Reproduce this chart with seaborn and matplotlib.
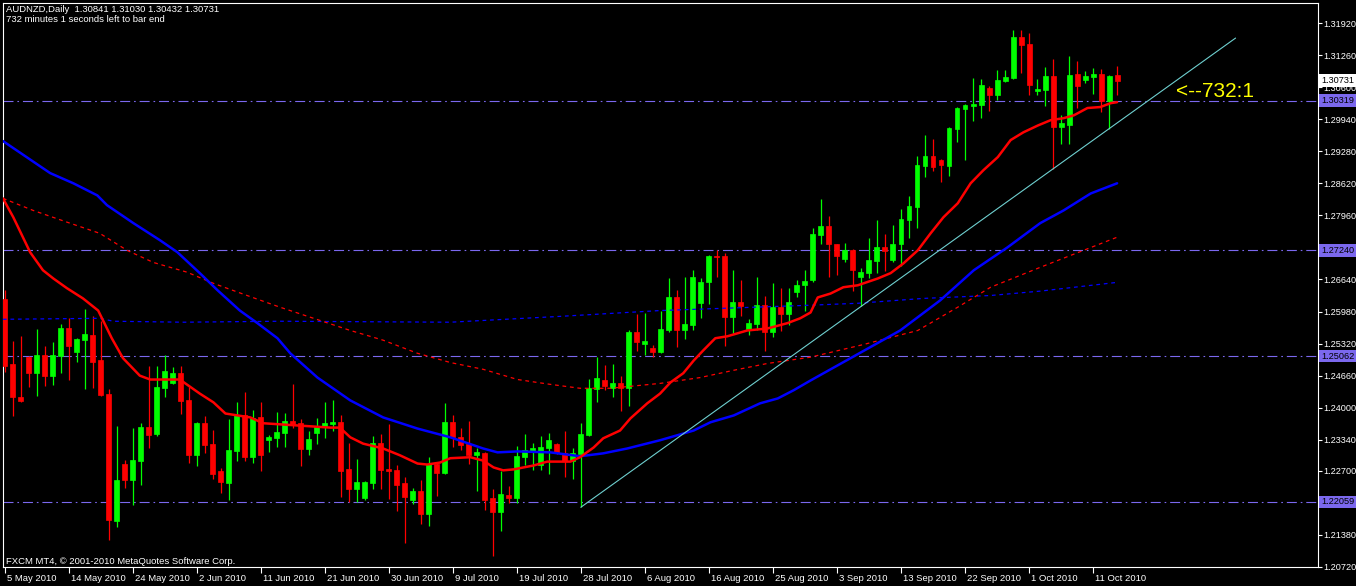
import numpy as np
import pandas as pd
import matplotlib
matplotlib.use('Agg')
import matplotlib.pyplot as plt
import matplotlib.transforms as mtransforms
import seaborn as sns

# AUDNZD daily bars, 5 May 2010 .. 14 Oct 2010
opens = [1.2623, 1.2489, 1.2423, 1.2504, 1.2471, 1.2509, 1.2466, 1.2506, 1.2565, 1.2514,
         1.2539, 1.2549, 1.2499, 1.2429, 1.2166, 1.2285, 1.2252, 1.2291, 1.2361, 1.2345,
         1.2440, 1.2450, 1.2471, 1.2415, 1.2302, 1.2368, 1.2326, 1.2269, 1.2244, 1.2310,
         1.2384, 1.2298, 1.2380, 1.2333, 1.2337, 1.2347, 1.2372, 1.2368, 1.2314, 1.2347,
         1.2363, 1.2366, 1.2370, 1.2273, 1.2232, 1.2215, 1.2244, 1.2328, 1.2273, 1.2271,
         1.2244, 1.2209, 1.2228, 1.2182, 1.2285, 1.2265, 1.2370, 1.2339, 1.2326, 1.2302,
         1.2306, 1.2215, 1.2186, 1.2221, 1.2215, 1.2298, 1.2308, 1.2281, 1.2318, 1.2326,
         1.2306, 1.2291, 1.2304, 1.2343, 1.2438, 1.2456, 1.2440, 1.2450, 1.2440, 1.2555,
         1.2532, 1.2522, 1.2514, 1.2559, 1.2627, 1.2559, 1.2570, 1.2615, 1.2658, 1.2712,
         1.2712, 1.2586, 1.2617, 1.2563, 1.2572, 1.2611, 1.2555, 1.2607, 1.2592, 1.2638,
         1.2652, 1.2662, 1.2755, 1.2775, 1.2736, 1.2707, 1.2724, 1.2670, 1.2677, 1.2703,
         1.2730, 1.2705, 1.2736, 1.2786, 1.2813, 1.2897, 1.2918, 1.2909, 1.2897, 1.2973,
         1.3014, 1.3021, 1.3023, 1.3058, 1.3044, 1.3072, 1.3078, 1.3163, 1.3148, 1.3052,
         1.3054, 1.3082, 1.2977, 1.2981, 1.3087, 1.3074, 1.3080, 1.3087, 1.3031, 1.30841]
highs = [1.2642, 1.2537, 1.2547, 1.2506, 1.2561, 1.2526, 1.2535, 1.2572, 1.2584, 1.2543,
         1.2603, 1.2588, 1.2578, 1.2438, 1.2363, 1.2293, 1.2359, 1.2368, 1.2485, 1.2485,
         1.2508, 1.2483, 1.2485, 1.2442, 1.2370, 1.2382, 1.2355, 1.2275, 1.2376, 1.2411,
         1.2433, 1.2396, 1.2411, 1.2343, 1.2391, 1.2390, 1.2448, 1.2376, 1.2353, 1.2378,
         1.2411, 1.2415, 1.2384, 1.2328, 1.2295, 1.2250, 1.2341, 1.2345, 1.2366, 1.2283,
         1.2258, 1.2234, 1.2252, 1.2298, 1.2287, 1.2409, 1.2384, 1.2359, 1.2372, 1.2316,
         1.2308, 1.2232, 1.2269, 1.2238, 1.2322, 1.2345, 1.2328, 1.2341, 1.2347, 1.2328,
         1.2351, 1.2318, 1.2368, 1.2460, 1.2504, 1.2487, 1.2489, 1.2466, 1.2559, 1.2592,
         1.2594, 1.2530, 1.2600, 1.2668, 1.2642, 1.2670, 1.2683, 1.2666, 1.2714, 1.2724,
         1.2718, 1.2683, 1.2662, 1.2582, 1.2670, 1.2629, 1.2656, 1.2646, 1.2646, 1.2662,
         1.2683, 1.2769, 1.2829, 1.2794, 1.2738, 1.2740, 1.2726, 1.2687, 1.2749, 1.2786,
         1.2757, 1.2777, 1.2809, 1.2836, 1.2918, 1.2961, 1.2953, 1.2911, 1.2977, 1.3019,
         1.3025, 1.3078, 1.3076, 1.3062, 1.3095, 1.3095, 1.3177, 1.3177, 1.3171, 1.3076,
         1.3101, 1.3118, 1.3002, 1.3124, 1.3113, 1.3093, 1.3099, 1.3097, 1.3085, 1.31030]
lows = [1.2473, 1.2382, 1.2411, 1.2442, 1.2425, 1.2444, 1.2446, 1.2471, 1.2458, 1.2495,
        1.2438, 1.2440, 1.2425, 1.2127, 1.2155, 1.2234, 1.2199, 1.2240, 1.2316, 1.2341,
        1.2421, 1.2448, 1.2386, 1.2287, 1.2279, 1.2306, 1.2254, 1.2225, 1.2209, 1.2291,
        1.2291, 1.2287, 1.2269, 1.2308, 1.2320, 1.2320, 1.2359, 1.2279, 1.2302, 1.2326,
        1.2337, 1.2353, 1.2217, 1.2205, 1.2205, 1.2209, 1.2232, 1.2232, 1.2211, 1.2188,
        1.2122, 1.2201, 1.2160, 1.2157, 1.2219, 1.2263, 1.2320, 1.2312, 1.2285, 1.2228,
        1.2190, 1.2094, 1.2147, 1.2203, 1.2203, 1.2283, 1.2271, 1.2271, 1.2263, 1.2304,
        1.2258, 1.2254, 1.2195, 1.2341, 1.2411, 1.2436, 1.2421, 1.2394, 1.2403, 1.2516,
        1.2508, 1.2504, 1.2512, 1.2555, 1.2524, 1.2541, 1.2559, 1.2584, 1.2613, 1.2670,
        1.2526, 1.2553, 1.2588, 1.2549, 1.2559, 1.2516, 1.2545, 1.2557, 1.2570, 1.2627,
        1.2600, 1.2658, 1.2738, 1.2670, 1.2674, 1.2699, 1.2640, 1.2609, 1.2666, 1.2677,
        1.2681, 1.2699, 1.2691, 1.2749, 1.2769, 1.2875, 1.2887, 1.2864, 1.2876, 1.2946,
        1.2909, 1.2990, 1.2996, 1.3010, 1.3033, 1.3070, 1.3076, 1.3089, 1.3043, 1.3044,
        1.3021, 1.2891, 1.2942, 1.2942, 1.3017, 1.3068, 1.3045, 1.3008, 1.2973, 1.30432]
closes = [1.2485, 1.2421, 1.2413, 1.2471, 1.2509, 1.2466, 1.2508, 1.2565, 1.2526, 1.2541,
          1.2551, 1.2495, 1.2427, 1.2168, 1.2252, 1.2252, 1.2293, 1.2361, 1.2343, 1.2442,
          1.2475, 1.2471, 1.2413, 1.2302, 1.2368, 1.2324, 1.2263, 1.2246, 1.2312, 1.2384,
          1.2298, 1.2378, 1.2302, 1.2339, 1.2349, 1.2372, 1.2366, 1.2314, 1.2335, 1.2363,
          1.2368, 1.2370, 1.2269, 1.2232, 1.2248, 1.2246, 1.2328, 1.2271, 1.2269, 1.2240,
          1.2217, 1.2228, 1.2182, 1.2285, 1.2265, 1.2370, 1.2339, 1.2324, 1.2302, 1.2308,
          1.2209, 1.2186, 1.2223, 1.2215, 1.2300, 1.2312, 1.2316, 1.2320, 1.2333, 1.2306,
          1.2291, 1.2306, 1.2345, 1.2440, 1.2462, 1.2444, 1.2450, 1.2440, 1.2555, 1.2535,
          1.2537, 1.2514, 1.2561, 1.2627, 1.2559, 1.2572, 1.2670, 1.2658, 1.2712, 1.2710,
          1.2586, 1.2617, 1.2609, 1.2574, 1.2611, 1.2555, 1.2607, 1.2592, 1.2617, 1.2652,
          1.2660, 1.2757, 1.2775, 1.2736, 1.2712, 1.2724, 1.2683, 1.2679, 1.2705, 1.2730,
          1.2722, 1.2738, 1.2788, 1.2815, 1.2899, 1.2918, 1.2895, 1.2899, 1.2975, 1.3017,
          1.3023, 1.3025, 1.3064, 1.3044, 1.3074, 1.3080, 1.3163, 1.3146, 1.3064, 1.3056,
          1.3082, 1.2977, 1.2986, 1.3085, 1.3062, 1.3082, 1.3087, 1.3031, 1.3082, 1.30731]

# moving averages, read at points along each line (bar index, price)
red_ma_x = [-0.2, 1.1, 3.2, 4.8, 6.1, 7.8, 9.8, 11.7, 12.3, 13.4, 14.8, 16.9, 18.2, 21.9, 24.4,
            26.1, 27.6, 30.7, 32.3, 40.7, 41.9, 43.2, 44.8, 47.3, 49.4, 51.6, 52.8, 54.4, 55.7,
            58.2, 59.8, 61.1, 62.3, 63.6, 66.1, 67.8, 70.7, 71.9, 73.6, 74.8, 76.9, 78.2, 80.3,
            81.9, 83.2, 84.8, 86.1, 87.3, 88.8, 90.3, 92.8, 95.3, 97.8, 99.4, 100.7, 101.6,
            103.2, 104.8, 106.6, 109.1, 110.7, 112.3, 114.1, 115.7, 117.3, 119.1, 120.7, 122.3,
            124.1, 125.7, 127.3, 129.1, 130.7, 132.3, 133.6, 135.3, 136.9, 138.2, 139.0]
red_ma_y = [1.2831, 1.2792, 1.2720, 1.2683, 1.2666, 1.2646, 1.2625, 1.2600, 1.2580, 1.2543,
            1.2502, 1.2466, 1.2458, 1.2458, 1.2429, 1.2411, 1.2388, 1.2380, 1.2368, 1.2359,
            1.2359, 1.2339, 1.2326, 1.2316, 1.2302, 1.2285, 1.2283, 1.2287, 1.2296, 1.2298,
            1.2291, 1.2277, 1.2271, 1.2273, 1.2281, 1.2289, 1.2289, 1.2298, 1.2318, 1.2337,
            1.2353, 1.2378, 1.2409, 1.2429, 1.2452, 1.2471, 1.2497, 1.2518, 1.2543, 1.2547,
            1.2559, 1.2563, 1.2574, 1.2584, 1.2596, 1.2627, 1.2635, 1.2648, 1.2652, 1.2666,
            1.2677, 1.2697, 1.2724, 1.2759, 1.2792, 1.2821, 1.2862, 1.2889, 1.2916, 1.2951,
            1.2967, 1.2981, 1.2992, 1.2996, 1.3002, 1.3017, 1.3019, 1.3027, 1.3029]
blue_ma_x = [-0.2, 5.7, 8.6, 11.6, 12.8, 16.1, 19.4, 21.6, 24.4, 26.6, 29.4, 31.6, 34.1, 35.7,
             39.1, 43.2, 47.3, 51.6, 55.7, 59.8, 61.6, 64.1, 68.2, 71.9, 74.8, 77.8, 81.9, 86.1,
             88.2, 91.1, 94.4, 96.6, 98.6, 100.7, 111.9, 116.9, 121.1, 125.3, 129.4, 132.3,
             135.7, 139.0]
blue_ma_y = [1.2949, 1.2883, 1.2862, 1.2837, 1.2817, 1.2780, 1.2745, 1.2720, 1.2677, 1.2642,
             1.2600, 1.2574, 1.2543, 1.2512, 1.2462, 1.2415, 1.2380, 1.2357, 1.2339, 1.2316,
             1.2308, 1.2310, 1.2308, 1.2300, 1.2306, 1.2316, 1.2333, 1.2353, 1.2370, 1.2384,
             1.2409, 1.2419, 1.2436, 1.2456, 1.2559, 1.2621, 1.2683, 1.2730, 1.2780, 1.2806,
             1.2841, 1.2862]
red_slow_x = [-0.2, 3.6, 7.8, 11.9, 15.3, 18.6, 22.8, 26.1, 30.3, 34.4, 43.2, 47.3, 51.6, 55.7,
              59.8, 64.1, 68.2, 71.9, 75.7, 81.9, 86.9, 91.1, 95.3, 100.7, 107.3, 114.1, 119.1,
              123.2, 129.4, 139.0]
red_slow_y = [1.2831, 1.2806, 1.2782, 1.2759, 1.2724, 1.2699, 1.2679, 1.2656, 1.2631, 1.2607,
              1.2559, 1.2539, 1.2512, 1.2493, 1.2479, 1.2458, 1.2448, 1.2440, 1.2440, 1.2450,
              1.2462, 1.2477, 1.2491, 1.2504, 1.2530, 1.2559, 1.2607, 1.2648, 1.2689, 1.2751]
blue_slow_x = [-0.2, 11.9, 13.6, 22.3, 34.4, 55.7, 69.4, 81.9, 100.7, 106.6, 114.8, 123.2,
               129.4, 139.0]
blue_slow_y = [1.2582, 1.2584, 1.2578, 1.2576, 1.2578, 1.2576, 1.2588, 1.2600, 1.2611, 1.2615,
               1.2625, 1.2631, 1.2640, 1.2658]

trend_x = [72, 153.8]
trend_y = [1.2195, 1.3161]

levels = [1.30319, 1.27240, 1.25062, 1.22059]

price_ticks = ['1.31920', '1.31260', '1.30600', '1.29940', '1.29280', '1.28620', '1.27960',
               '1.27300', '1.26640', '1.25980', '1.25320', '1.24660', '1.24000', '1.23340',
               '1.22700', '1.21380', '1.20720']
date_ticks = ['5 May 2010', '14 May 2010', '24 May 2010', '2 Jun 2010', '11 Jun 2010',
              '21 Jun 2010', '30 Jun 2010', '9 Jul 2010', '19 Jul 2010', '28 Jul 2010',
              '6 Aug 2010', '16 Aug 2010', '25 Aug 2010', '3 Sep 2010', '13 Sep 2010',
              '22 Sep 2010', '1 Oct 2010', '11 Oct 2010']

sns.set_theme(style='dark', rc={'axes.facecolor': 'black', 'figure.facecolor': 'black'})
plt.rcParams['font.family'] = ['Liberation Sans', 'DejaVu Sans']

df = pd.DataFrame({'open': opens, 'high': highs, 'low': lows, 'close': closes})
df['bar'] = np.arange(len(df))
df['col'] = np.where(df.close >= df.open, '#00FF00', '#FF0000')

W, H = 1356, 586
fig = plt.figure(figsize=(W / 100, H / 100), dpi=100, facecolor='black')
ax = fig.add_axes([3 / W, 1 - 567 / H, (1318 - 3) / W, (567 - 3) / H])
ax.set_facecolor('black')

# level lines
for lv in levels:
    ax.axhline(lv, color='#7B68EE', lw=0.8, ls=(0, (9, 3.5, 1.5, 3.5)), zorder=1)

# candles
ax.vlines(df.bar, df.low, df.high, colors=df.col, lw=0.9, zorder=2)
ax.bar(df.bar, (df.close - df.open).abs(), bottom=df[['open', 'close']].min(axis=1),
       width=0.62, color=df.col, edgecolor=df.col, linewidth=0.5, zorder=3)

# moving averages
sns.lineplot(x=blue_slow_x, y=blue_slow_y, ax=ax, color='#0000FF', lw=0.9,
             linestyle=(0, (3, 3)), sort=False, estimator=None, zorder=4)
sns.lineplot(x=red_slow_x, y=red_slow_y, ax=ax, color='#FF0000', lw=0.9,
             linestyle=(0, (3, 3)), sort=False, estimator=None, zorder=4)
sns.lineplot(x=blue_ma_x, y=blue_ma_y, ax=ax, color='#0000FF', lw=1.8,
             sort=False, estimator=None, zorder=5)
sns.lineplot(x=red_ma_x, y=red_ma_y, ax=ax, color='#FF0000', lw=1.8,
             sort=False, estimator=None, zorder=5)

# trendline
sns.lineplot(x=trend_x, y=trend_y, ax=ax, color='#6FD0D0', lw=0.8,
             sort=False, estimator=None, zorder=6)

ax.text(146.3, 1.3052, '<--732:1', color='#FFFF00', fontsize=15, va='center', ha='left')

ax.set_xlim(-0.19, 164.1)
ax.set_ylim(1.20720, 1.32332)

for s in ax.spines.values():
    s.set_color('white')
    s.set_linewidth(0.8)

ax.yaxis.tick_right()
ax.set_yticks([float(t) for t in price_ticks])
ax.set_yticklabels(price_ticks)
ax.tick_params(axis='y', colors='white', labelcolor='white', length=3, width=0.8,
               pad=1.2, labelsize=6.6, right=True, left=False)

ax.set_xticks(range(0, len(df), 8))
ax.set_xticklabels(date_ticks)
ax.tick_params(axis='x', colors='white', labelcolor='white', length=4, width=0.8,
               pad=1, labelsize=6.8, bottom=True)
shift = mtransforms.ScaledTranslation(2 / 100, 0, fig.dpi_scale_trans)
for lbl in ax.get_xticklabels():
    lbl.set_ha('left')
    lbl.set_transform(lbl.get_transform() + shift)
ax.set_xlabel('')
ax.set_ylabel('')
ax.grid(False)

# price boxes on the right axis
btr = mtransforms.blended_transform_factory(ax.transAxes, ax.transData)
box_shift = mtransforms.ScaledTranslation(3 / 100, 0, fig.dpi_scale_trans)
for lv in levels:
    ax.text(1.0, lv, f'{lv:.5f}', transform=btr + box_shift, ha='left', va='center',
            color='black', fontsize=6.6, zorder=10,
            bbox=dict(boxstyle='square,pad=0.2', fc='#7B68EE', ec='none'))
ax.text(1.0, closes[-1], f'{closes[-1]:.5f}', transform=btr + box_shift, ha='left',
        va='center', color='black', fontsize=6.6, zorder=10,
        bbox=dict(boxstyle='square,pad=0.2', fc='white', ec='none'))

fig.text(6 / W, 1 - 9 / H,
         f'AUDNZD,Daily  {opens[-1]:.5f} {highs[-1]:.5f} {lows[-1]:.5f} {closes[-1]:.5f}',
         color='white', fontsize=6.8, va='center')
fig.text(6 / W, 1 - 19 / H, '732 minutes 1 seconds left to bar end',
         color='white', fontsize=6.8, va='center')
fig.text(6 / W, 1 - 561 / H, 'FXCM MT4, \u00a9 2001-2010 MetaQuotes Software Corp.',
         color='white', fontsize=6.8, va='center')

fig.savefig('out.png', dpi=100, facecolor='black')
